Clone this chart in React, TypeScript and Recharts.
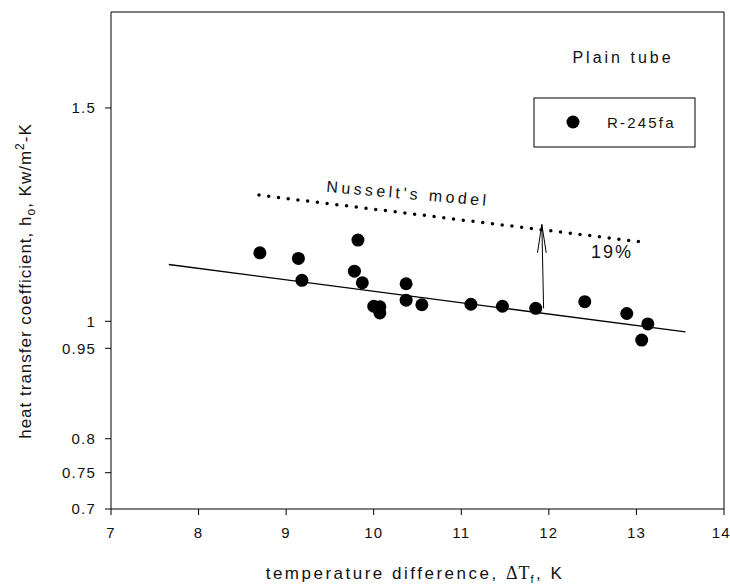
import React from 'react'
import { ComposedChart, Scatter, Line, XAxis, YAxis, ReferenceLine } from 'recharts'

const measuredDT = [8.70, 9.14, 9.18, 9.78, 9.82, 9.87, 10.00, 10.07, 10.07, 10.37, 10.37, 10.55, 11.11, 11.47, 11.85, 12.41, 12.89, 13.06, 13.13]
const measuredH = [1.139, 1.127, 1.081, 1.100, 1.167, 1.076, 1.029, 1.028, 1.016, 1.074, 1.041, 1.032, 1.033, 1.029, 1.025, 1.038, 1.015, 0.965, 0.995]

// fitted line through the data
const fitDT = [7.66, 13.56]
const fitH = [1.114, 0.98]

// Nusselt's model
const nusseltDT = [8.69, 13.09]
const nusseltH = [1.271, 1.162]

// 19% arrow
const arrowDT = [11.94, 11.92]
const arrowH = [1.025, 1.202]
const arrowHeadDT = [11.87, 11.97]
const arrowHeadH = 1.139

const xTicks = [7, 8, 9, 10, 11, 12, 13, 14]
const yTicks = [0.7, 0.75, 0.8, 0.95, 1, 1.5]

const FONT = '"Liberation Sans", Arial, sans-serif'
const SERIF = '"Liberation Serif", "Times New Roman", serif'

const measured = measuredDT.map((x, i) => ({ x, y: measuredH[i] }))
const fit = fitDT.map((x, i) => ({ x, y: fitH[i] }))
const nusselt = nusseltDT.map((x, i) => ({ x, y: nusseltH[i] }))

function Dot(props: any) {
  return <circle cx={props.cx} cy={props.cy} r={6.5} fill="#000" />
}

export default function App() {
  const tickStyle = { fontSize: 15, fill: '#111', fontFamily: FONT, letterSpacing: 1.2 }
  return (
    <div style={{ position: 'absolute', left: 0, top: 0, background: '#fff' }}>
      <ComposedChart width={730} height={588} margin={{ top: 12, right: 6, bottom: 49, left: 51 }}>
        <XAxis
          type="number"
          dataKey="x"
          domain={[7, 14]}
          ticks={xTicks}
          allowDataOverflow
          height={30}
          stroke="#000"
          tickSize={6}
          tick={tickStyle}
          tickMargin={12}
        />
        <YAxis
          type="number"
          scale="log"
          domain={[0.7, 1.8]}
          ticks={yTicks}
          allowDataOverflow
          width={60}
          stroke="#000"
          tickSize={6}
          tick={tickStyle}
          tickMargin={9}
        />
        <ReferenceLine y={1.8} stroke="#000" />
        <ReferenceLine x={14} stroke="#000" />

        <Line
          data={fit}
          dataKey="y"
          type="linear"
          stroke="#000"
          strokeWidth={1.3}
          dot={false}
          isAnimationActive={false}
        />
        <Line
          data={nusselt}
          dataKey="y"
          type="linear"
          stroke="#000"
          strokeWidth={3.5}
          strokeDasharray="0 9.8"
          strokeLinecap="round"
          dot={false}
          isAnimationActive={false}
        />
        <Scatter data={measured} dataKey="y" shape={<Dot />} isAnimationActive={false} />

        <ReferenceLine
          segment={[{ x: arrowDT[0], y: arrowH[0] }, { x: arrowDT[1], y: arrowH[1] }]}
          stroke="#000"
          strokeWidth={1}
        />
        <ReferenceLine
          segment={[{ x: arrowHeadDT[0], y: arrowHeadH }, { x: arrowDT[1], y: arrowH[1] }]}
          stroke="#000"
          strokeWidth={1}
        />
        <ReferenceLine
          segment={[{ x: arrowHeadDT[1], y: arrowHeadH }, { x: arrowDT[1], y: arrowH[1] }]}
          stroke="#000"
          strokeWidth={1}
        />

        {/* annotations */}
        <text x={623} y={63} textAnchor="middle" fontSize={16} fontFamily={FONT} letterSpacing={3} fill="#111">
          Plain tube
        </text>
        <rect x={534} y={98} width={161} height={49} fill="#fff" stroke="#000" strokeWidth={1} />
        <circle cx={573} cy={122} r={6.5} fill="#000" />
        <text x={607} y={128} fontSize={15} fontFamily={FONT} letterSpacing={2.2} fill="#111">
          R-245fa
        </text>
        <text
          x={408}
          y={199}
          textAnchor="middle"
          fontSize={16}
          fontFamily={FONT}
          letterSpacing={3.4}
          fill="#111"
          transform="rotate(5 408 193)"
        >
          Nusselt's model
        </text>
        <text x={612} y={258} textAnchor="middle" fontSize={18} fontFamily={FONT} letterSpacing={2} fill="#111">
          19%
        </text>

        <text
          x={31}
          y={281}
          textAnchor="middle"
          fontSize={17}
          fontFamily={FONT}
          letterSpacing={1}
          fill="#111"
          transform="rotate(-90 31 281)"
        >
          heat transfer coefficient, h
          <tspan fontSize={12} dy={4}>o</tspan>
          <tspan dy={-4}>, Kw/m</tspan>
          <tspan fontSize={12} dy={-7}>2</tspan>
          <tspan dy={7}>-K</tspan>
        </text>
        <text x={415} y={579} textAnchor="middle" fontSize={17} fontFamily={FONT} letterSpacing={2.5} fill="#111">
          temperature difference,{' '}
          <tspan fontFamily={SERIF} fontSize={18} letterSpacing={1}>ΔT</tspan>
          <tspan fontSize={11} dy={4}>f</tspan>
          <tspan dy={-4}>, K</tspan>
        </text>
      </ComposedChart>
    </div>
  )
}
